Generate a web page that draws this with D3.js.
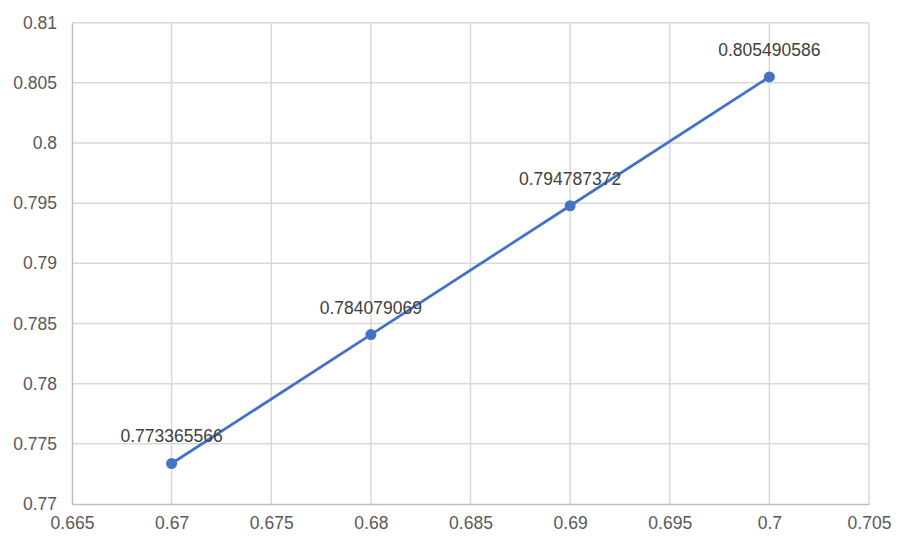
<!DOCTYPE html>
<html>
<head>
<meta charset="utf-8">
<script src="https://cdn.jsdelivr.net/npm/d3@7"></script>
<style>
  body { margin: 0; background: #fff; }
  svg text { font-family: "Liberation Sans", Arial, sans-serif; }
</style>
</head>
<body>
<svg id="chart" width="914" height="548"></svg>
<script>
// data
var xValues = [0.67, 0.68, 0.69, 0.70];
var yValues = [0.773365566, 0.784079069, 0.794787372, 0.805490586];
var pointLabels = ["0.773365566", "0.784079069", "0.794787372", "0.805490586"];
var xTicks = [0.665, 0.67, 0.675, 0.68, 0.685, 0.69, 0.695, 0.7, 0.705];
var yTicks = [0.77, 0.775, 0.78, 0.785, 0.79, 0.795, 0.8, 0.805, 0.81];

const svg = d3.select("#chart");
const margin = { left: 72, right: 45, top: 22.7, bottom: 44 };
const width = 914 - margin.left - margin.right;
const height = 548 - margin.top - margin.bottom;

const xScale = d3.scaleLinear().domain([0.665, 0.705]).range([0, width]);
const yScale = d3.scaleLinear().domain([0.77, 0.81]).range([height, 0]);

const g = svg.append("g")
    .attr("transform", `translate(${margin.left}, ${margin.top})`);

// gridlines
g.append("g").selectAll("line")
    .data(xTicks.slice(1))
    .enter().append("line")
    .attr("x1", d => xScale(d)).attr("x2", d => xScale(d))
    .attr("y1", 0).attr("y2", height)
    .attr("stroke", "#d9d9d9").attr("stroke-width", 1.5);

g.append("g").selectAll("line")
    .data(yTicks.slice(1))
    .enter().append("line")
    .attr("x1", 0).attr("x2", width)
    .attr("y1", d => yScale(d)).attr("y2", d => yScale(d))
    .attr("stroke", "#d9d9d9").attr("stroke-width", 1.5);

// axes
const xAxis = d3.axisBottom(xScale).tickValues(xTicks).tickSize(0).tickPadding(13)
    .tickFormat(d => String(+d.toFixed(3)));
const yAxis = d3.axisLeft(yScale).tickValues(yTicks).tickSize(0).tickPadding(15)
    .tickFormat(d => String(+d.toFixed(3)));

const xg = g.append("g").attr("transform", `translate(0, ${height})`).call(xAxis);
const yg = g.append("g").call(yAxis);
[xg, yg].forEach(a => {
    a.select(".domain").attr("stroke", "#bfbfbf").attr("stroke-width", 1.5);
    a.selectAll("text").attr("fill", "#595959").style("font-size", "17.5px");
});

// line + markers
const pts = xValues.map((x, i) => ({ x: x, y: yValues[i], label: pointLabels[i] }));
const line = d3.line().x(d => xScale(d.x)).y(d => yScale(d.y));

g.append("path")
    .datum(pts)
    .attr("d", line)
    .attr("fill", "none")
    .attr("stroke", "#4472c4")
    .attr("stroke-width", 2.8);

g.selectAll("circle.pt")
    .data(pts)
    .enter().append("circle")
    .attr("class", "pt")
    .attr("cx", d => xScale(d.x))
    .attr("cy", d => yScale(d.y))
    .attr("r", 5.5)
    .attr("fill", "#4472c4");

g.selectAll("text.lbl")
    .data(pts)
    .enter().append("text")
    .attr("class", "lbl")
    .attr("x", d => xScale(d.x))
    .attr("y", d => yScale(d.y) - 21)
    .attr("text-anchor", "middle")
    .attr("fill", "#404040")
    .style("font-size", "17.5px")
    .text(d => d.label);
</script>
</body>
</html>
